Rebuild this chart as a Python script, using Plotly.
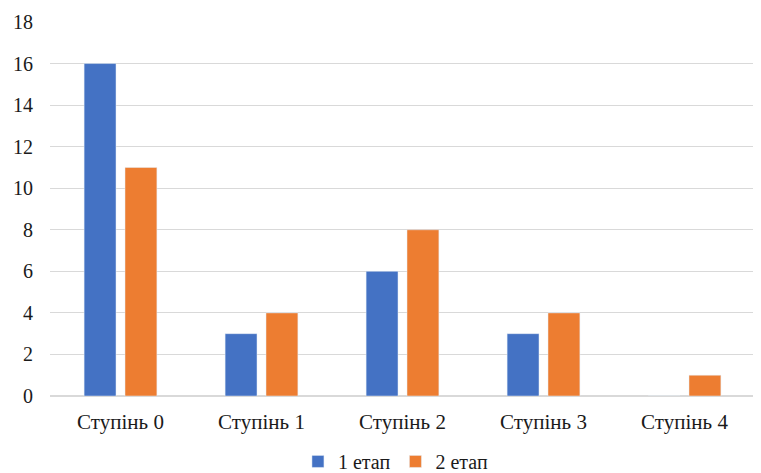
import plotly.graph_objects as go

categories = ["Ступінь 0", "Ступінь 1", "Ступінь 2", "Ступінь 3", "Ступінь 4"]
series1_name = "1 етап"
series1 = [16, 3, 6, 3, 0]
series2_name = "2 етап"
series2 = [11, 4, 8, 4, 1]
y_ticks = [0, 2, 4, 6, 8, 10, 12, 14, 16, 18]

fig = go.Figure()
fig.add_trace(go.Bar(x=categories, y=series1, name=series1_name, marker_color="#4472C4"))
fig.add_trace(go.Bar(x=categories, y=series2, name=series2_name, marker_color="#ED7D31"))

ff = "Liberation Serif"
fig.update_layout(
    width=753, height=465,
    margin=dict(l=42, r=6, t=14, b=77, autoexpand=False),
    paper_bgcolor="white", plot_bgcolor="white",
    barmode="group", bargap=0.42, bargroupgap=0.22,
    font=dict(family=ff, size=20, color="#1a1a1a"),
    legend=dict(orientation="h", x=0.49, xanchor="center", y=-0.175, yanchor="middle",
                font=dict(family=ff, size=20), itemwidth=30, traceorder="normal"),
    xaxis=dict(showline=False, ticks="", tickfont=dict(family=ff, size=21),
               ticklabelstandoff=11),
    yaxis=dict(range=[0, 18], tickvals=y_ticks, showgrid=True, gridcolor="#D9D9D9",
               gridwidth=1, zeroline=True, zerolinecolor="#D9D9D9", ticks="",
               ticklabelstandoff=16, tickfont=dict(family=ff, size=20)),
)
fig.write_html("out.html")
